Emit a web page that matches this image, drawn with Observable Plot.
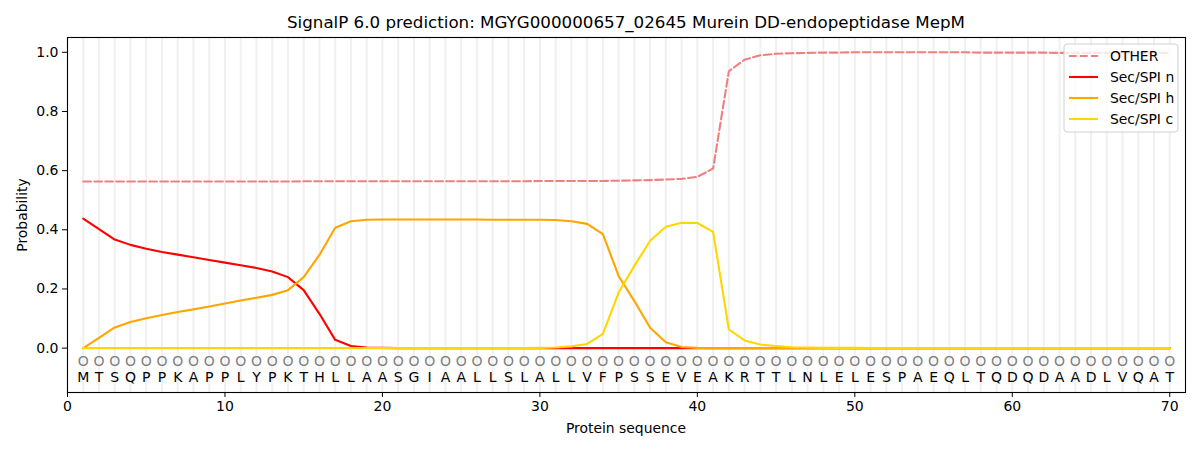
<!DOCTYPE html>
<html>
<head>
<meta charset="utf-8">
<script src="https://cdn.jsdelivr.net/npm/d3@7"></script>
<script src="https://cdn.jsdelivr.net/npm/@observablehq/plot@0.6"></script>
<style>
  html, body { margin: 0; padding: 0; background: #fff; }
  #chart { width: 1200px; height: 450px; }
  svg { font-family: "DejaVu Sans", sans-serif; }
</style>
</head>
<body>
<div id="chart"></div>
<script>
const titleText = "SignalP 6.0 prediction: MGYG000000657_02645 Murein DD-endopeptidase MepM";
const residues = "MTSQPPKAPPLYPKTHLLAASGIAALLSLALLVFPSSEVEAKRTTLNLELESPAEQLTQDQDAADLVQAT".split("");
const predLabels = "OOOOOOOOOOOOOOOOOOOOOOOOOOOOOOOOOOOOOOOOOOOOOOOOOOOOOOOOOOOOOOOOOOOOOO".split("");

const other = [
  0.563,0.563,0.563,0.563,0.563,0.563,0.563,0.563,0.563,0.563,
  0.563,0.563,0.563,0.563,0.564,0.564,0.564,0.564,0.564,0.564,
  0.564,0.564,0.564,0.564,0.564,0.564,0.564,0.564,0.564,0.565,
  0.565,0.565,0.565,0.565,0.566,0.567,0.568,0.570,0.572,0.579,
  0.607,0.936,0.975,0.990,0.995,0.997,0.998,0.999,0.999,1.000,
  1.000,1.000,1.000,1.000,1.000,1.000,1.000,0.999,0.999,0.999,
  0.999,0.999,0.998,0.998,0.998,0.998,0.998,0.998,0.998,0.998
];
const secN = [
  0.438,0.402,0.367,0.349,0.336,0.325,0.316,0.307,0.298,0.289,
  0.280,0.271,0.259,0.240,0.196,0.116,0.028,0.007,0.002,0.001,
  0,0,0,0,0,0,0,0,0,0,
  0,0,0,0,0,0,0,0,0,0,
  0,0,0,0,0,0,0,0,0,0,
  0,0,0,0,0,0,0,0,0,0,
  0,0,0,0,0,0,0,0,0,0
];
const secH = [
  0.000,0.035,0.070,0.088,0.101,0.112,0.122,0.131,0.141,0.151,
  0.161,0.170,0.180,0.196,0.240,0.315,0.407,0.429,0.434,0.435,
  0.435,0.435,0.435,0.435,0.435,0.435,0.434,0.434,0.434,0.434,
  0.433,0.429,0.420,0.385,0.244,0.159,0.069,0.020,0.004,0.001,
  0,0,0,0,0,0,0,0,0,0,
  0,0,0,0,0,0,0,0,0,0,
  0,0,0,0,0,0,0,0,0,0
];
const secC = [
  0,0,0,0,0,0,0,0,0,0,
  0,0,0,0,0,0,0,0,0,0,
  0,0,0,0,0,0,0,0,0,0.001,
  0.002,0.006,0.014,0.048,0.188,0.278,0.363,0.410,0.424,0.423,
  0.393,0.063,0.026,0.012,0.007,0.003,0.002,0.001,0.001,0.001,
  0,0,0,0,0,0,0,0,0,0,
  0,0,0,0,0,0,0,0,0,0
];
const xTicks = [0,10,20,30,40,50,60,70];
const yTicks = [0.0,0.2,0.4,0.6,0.8,1.0];

const seriesNames = ["OTHER","Sec/SPI n","Sec/SPI h","Sec/SPI c"];
const seriesColors = ["#f08080","#ff0000","#ffa500","#ffd700"];
const seriesValues = [other, secN, secH, secC];

const positions = residues.map((d,i) => i + 1);
const rows = seriesValues.map((vals, s) => vals.map((v,i) => ({pos: i+1, p: v, name: seriesNames[s]})));

const plot = Plot.plot({
  width: 1200,
  height: 450,
  marginLeft: 67,
  marginRight: 15,
  marginTop: 37,
  marginBottom: 58,
  style: {fontFamily: "DejaVu Sans, sans-serif", fontSize: "14px", color: "#000", background: "#fff"},
  x: {domain: [0, 71]},
  y: {domain: [-0.15, 1.05]},
  marks: [
    Plot.ruleX(positions, {x: d => d, stroke: "#f0f0f0", strokeWidth: 2}),
    Plot.line(rows[0], {x: "pos", y: "p", stroke: seriesColors[0], strokeWidth: 2.1, strokeDasharray: "7.7,3.3"}),
    Plot.line(rows[1], {x: "pos", y: "p", stroke: seriesColors[1], strokeWidth: 2.1}),
    Plot.line(rows[2], {x: "pos", y: "p", stroke: seriesColors[2], strokeWidth: 2.1}),
    Plot.line(rows[3], {x: "pos", y: "p", stroke: seriesColors[3], strokeWidth: 2.1}),
    Plot.text(predLabels, {x: (d,i) => i + 1, y: -0.046, text: d => d, fill: "#808080", fontSize: 14}),
    Plot.text(residues, {x: (d,i) => i + 1, y: -0.1, text: d => d, fill: "#000", fontSize: 14}),
    Plot.axisX({ticks: xTicks, tickSize: 5, tickPadding: 4, tickFormat: d => String(d), label: null, fontSize: 14}),
    Plot.axisY({ticks: yTicks, tickSize: 5, tickPadding: 4, tickFormat: d => d.toFixed(1), label: null, fontSize: 14}),
    Plot.frame({stroke: "#000", strokeWidth: 1.1})
  ]
});

document.getElementById("chart").appendChild(plot);

const svg = d3.select(plot);
svg.append("text")
  .attr("x", 626).attr("y", 28)
  .attr("text-anchor", "middle")
  .attr("font-size", 16.7)
  .attr("fill", "#000")
  .text(titleText);
svg.append("text")
  .attr("x", 626).attr("y", 433)
  .attr("text-anchor", "middle")
  .attr("font-size", 13.9)
  .attr("fill", "#000")
  .text("Protein sequence");
svg.append("text")
  .attr("transform", "translate(27,215) rotate(-90)")
  .attr("text-anchor", "middle")
  .attr("font-size", 13.9)
  .attr("fill", "#000")
  .text("Probability");

const lg = svg.append("g");
lg.append("rect")
  .attr("x", 1064).attr("y", 44).attr("width", 114).attr("height", 88)
  .attr("rx", 3).attr("fill", "#ffffff").attr("fill-opacity", 0.8)
  .attr("stroke", "#d0d0d0").attr("stroke-width", 1);
seriesNames.forEach((name, i) => {
  const yy = 56 + i * 21;
  lg.append("line")
    .attr("x1", 1069).attr("x2", 1098).attr("y1", yy).attr("y2", yy)
    .attr("stroke", seriesColors[i]).attr("stroke-width", 2.1)
    .attr("stroke-dasharray", i === 0 ? "7.7,3.3" : null);
  lg.append("text")
    .attr("x", 1110).attr("y", yy + 5)
    .attr("text-anchor", "start")
    .attr("font-size", 13.9).attr("fill", "#000")
    .text(name);
});
</script>
</body>
</html>
